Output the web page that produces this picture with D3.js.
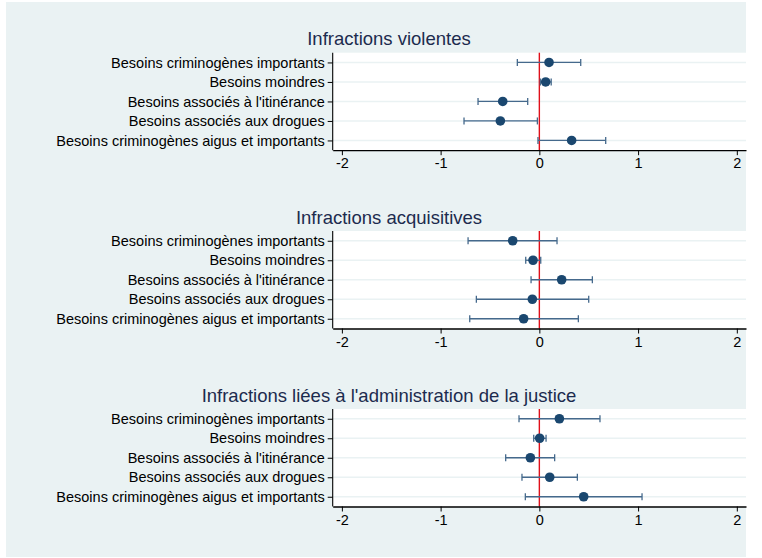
<!DOCTYPE html>
<html><head><meta charset="utf-8">
<script src="https://cdn.jsdelivr.net/npm/d3@7"></script>
<style>body{margin:0;background:#fff}svg{display:block;font-family:"Liberation Sans",Arial,sans-serif}</style>
</head><body><svg id="c" width="762" height="558"></svg>
<script>
const categories = ["Besoins criminogènes importants","Besoins moindres","Besoins associés à l'itinérance","Besoins associés aux drogues","Besoins criminogènes aigus et importants"];
const panelTitles = ["Infractions violentes","Infractions acquisitives","Infractions liées à l'administration de la justice"];
const estimates = [
  [0.098, 0.064, -0.371, -0.395, 0.327],
  [-0.270, -0.064, 0.226, -0.071, -0.159],
  [0.203, 0.003, -0.091, 0.105, 0.449]
];
const lowerCI = [
  [-0.223, 0.010, -0.621, -0.763, -0.014],
  [-0.722, -0.138, -0.084, -0.638, -0.705],
  [-0.206, -0.057, -0.341, -0.176, -0.142]
];
const upperCI = [
  [0.419, 0.120, -0.118, -0.020, 0.672],
  [0.179, 0.014, 0.537, 0.500, 0.395],
  [0.614, 0.068, 0.155, 0.385, 1.040]
];
const xTicks = [-2,-1,0,1,2];

const svg = d3.select("#c");
svg.append("rect").attr("x",6).attr("y",2).attr("width",740).attr("height",555).attr("fill","#eaf2f3");

const x = d3.scaleLinear().domain([-2.093,2.093]).range([332.7,746]);
const panelTop = [52.7,231,409];
const panelH = 97.5;

panelTitles.forEach((t,pi)=>{
  const top = panelTop[pi];
  const g = svg.append("g");
  const y = d3.scalePoint().domain(categories).range([top, top+panelH]).padding(0.5);
  g.append("text").attr("x",389).attr("y",top-7.5).attr("text-anchor","middle")
    .attr("font-size",18.5).attr("fill","#1c2b4e").text(t);
  g.append("rect").attr("x",x.range()[0]).attr("y",top).attr("width",x.range()[1]-x.range()[0]).attr("height",panelH).attr("fill","#fff");
  g.selectAll("line.grid").data(categories).join("line").attr("class","grid")
    .attr("x1",x.range()[0]).attr("x2",x.range()[1]).attr("y1",d=>y(d)).attr("y2",d=>y(d))
    .attr("stroke","#eaf2f3").attr("stroke-width",1.5);
  g.append("line").attr("x1",x(0)).attr("x2",x(0)).attr("y1",top).attr("y2",top+panelH)
    .attr("stroke","#e0101a").attr("stroke-width",1.4);
  const ci = g.append("g").attr("stroke","#45698c").attr("stroke-width",1.3);
  categories.forEach((c,i)=>{
    const yy = y(c), lo = x(lowerCI[pi][i]), hi = x(upperCI[pi][i]);
    ci.append("line").attr("x1",lo).attr("x2",hi).attr("y1",yy).attr("y2",yy);
    ci.append("line").attr("x1",lo).attr("x2",lo).attr("y1",yy-3.5).attr("y2",yy+3.5);
    ci.append("line").attr("x1",hi).attr("x2",hi).attr("y1",yy-3.5).attr("y2",yy+3.5);
  });
  g.selectAll("circle").data(categories).join("circle")
    .attr("cx",(c,i)=>x(estimates[pi][i])).attr("cy",c=>y(c)).attr("r",4.8).attr("fill","#1a476f");
  const xa = g.append("g").attr("transform",`translate(0,${top+panelH})`)
    .call(d3.axisBottom(x).tickValues(xTicks).tickFormat(d3.format("d")).tickSize(5).tickPadding(3).tickSizeOuter(0));
  xa.select(".domain").attr("stroke","#000").attr("stroke-width",1.3);
  xa.selectAll("text").attr("font-size",14.5).attr("fill","#000").attr("font-family","Liberation Sans, Arial, sans-serif").text(d=>d<0?"-"+Math.abs(d):d);
  const ya = g.append("g").attr("transform",`translate(${x.range()[0]},0)`)
    .call(d3.axisLeft(y).tickSize(5).tickPadding(3).tickSizeOuter(0));
  ya.select(".domain").attr("stroke","#000").attr("stroke-width",1.1).attr("d",`M0,${top}V${top+panelH}`);
  ya.selectAll("text").attr("font-size",14.5).attr("fill","#000").attr("font-family","Liberation Sans, Arial, sans-serif");
});
</script></body></html>
